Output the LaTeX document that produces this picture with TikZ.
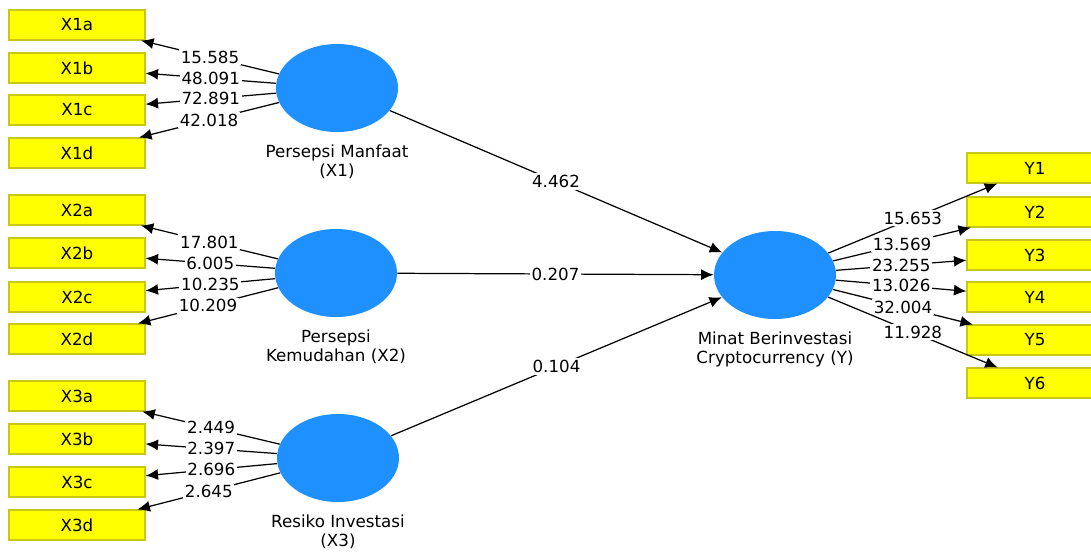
\documentclass[tikz,border=0pt]{standalone}
\usepackage{fontspec}
\setmainfont{DejaVu Sans}
\usetikzlibrary{positioning, calc, shapes.geometric, arrows.meta}
\definecolor{lvblue}{RGB}{30,144,255}
\definecolor{indyellow}{RGB}{255,255,0}
\definecolor{indborder}{RGB}{200,200,20}

\begin{document}
\begin{tikzpicture}[
        indbox/.style={rectangle, draw=indborder, fill=indyellow, line width=0.6pt, minimum width=2.72cm, minimum height=0.6cm, inner sep=0pt, font=\fontsize{9.5}{11}\selectfont},
        latent/.style={ellipse, fill=lvblue, draw=none, minimum width=2.44cm, minimum height=1.76cm, inner sep=0pt},
        lvname/.style={align=center, inner sep=1pt, font=\fontsize{9.5}{10.8}\selectfont},
        arrow/.style={-{Latex[length=2.5mm, width=2.2mm]}, line width=0.7pt},
        coef/.style={fill=white, inner sep=1pt, font=\fontsize{9.5}{11}\selectfont},
    ]
    \useasboundingbox (0,0) rectangle (21.82,-11.02);

    % ===== Latent variables =====
    \node[latent] (X1) at (6.74,-1.76) {};
    \node[latent] (X2) at (6.72,-5.46) {};
    \node[latent] (X3) at (6.76,-9.16) {};
    \node[latent] (Y)  at (15.50,-5.50) {};

    \node[lvname, below=0.2cm of X1] (X1lbl) {Persepsi Manfaat\\(X1)};
    \node[lvname, below=0.2cm of X2] (X2lbl) {Persepsi\\Kemudahan (X2)};
    \node[lvname, below=0.2cm of X3] (X3lbl) {Resiko Investasi\\(X3)};
    \node[lvname, below=0.2cm of Y]  (Ylbl)  {Minat Berinvestasi\\Cryptocurrency (Y)};

    % ===== Indicators X =====
    \foreach \ind/\yy in {X1a/-0.50, X1b/-1.36, X1c/-2.20, X1d/-3.06,
                          X2a/-4.20, X2b/-5.06, X2c/-5.94, X2d/-6.78,
                          X3a/-7.92, X3b/-8.78, X3c/-9.64, X3d/-10.50} {
        \node[indbox] (\ind) at (1.54,\yy) {\ind};
    }

    % ===== Indicators Y =====
    \foreach \ind/\yy in {Y1/-3.36, Y2/-4.24, Y3/-5.10, Y4/-5.94, Y5/-6.80, Y6/-7.66} {
        \node[indbox] (\ind) at (20.70,\yy) {\ind};
    }

    % ===== Outer loadings =====
    \foreach \lv/\ind/\val in {
        X1/X1a/15.585, X1/X1b/48.091, X1/X1c/72.891, X1/X1d/42.018,
        X2/X2a/17.801, X2/X2b/6.005, X2/X2c/10.235, X2/X2d/10.209,
        X3/X3a/2.449, X3/X3b/2.397, X3/X3c/2.696, X3/X3d/2.645,
        Y/Y1/15.653, Y/Y2/13.569, Y/Y3/23.255, Y/Y4/13.026, Y/Y5/32.004, Y/Y6/11.928%
    } {
        \draw[arrow] (\lv) -- node[coef, midway] {\val} (\ind);
    }

    % ===== Path coefficients =====
    \draw[arrow] (X1) -- node[coef, midway] {4.462} (Y);
    \draw[arrow] (X2) -- node[coef, midway] {0.207} (Y);
    \draw[arrow] (X3) -- node[coef, midway] {0.104} (Y);

\end{tikzpicture}
\end{document}
